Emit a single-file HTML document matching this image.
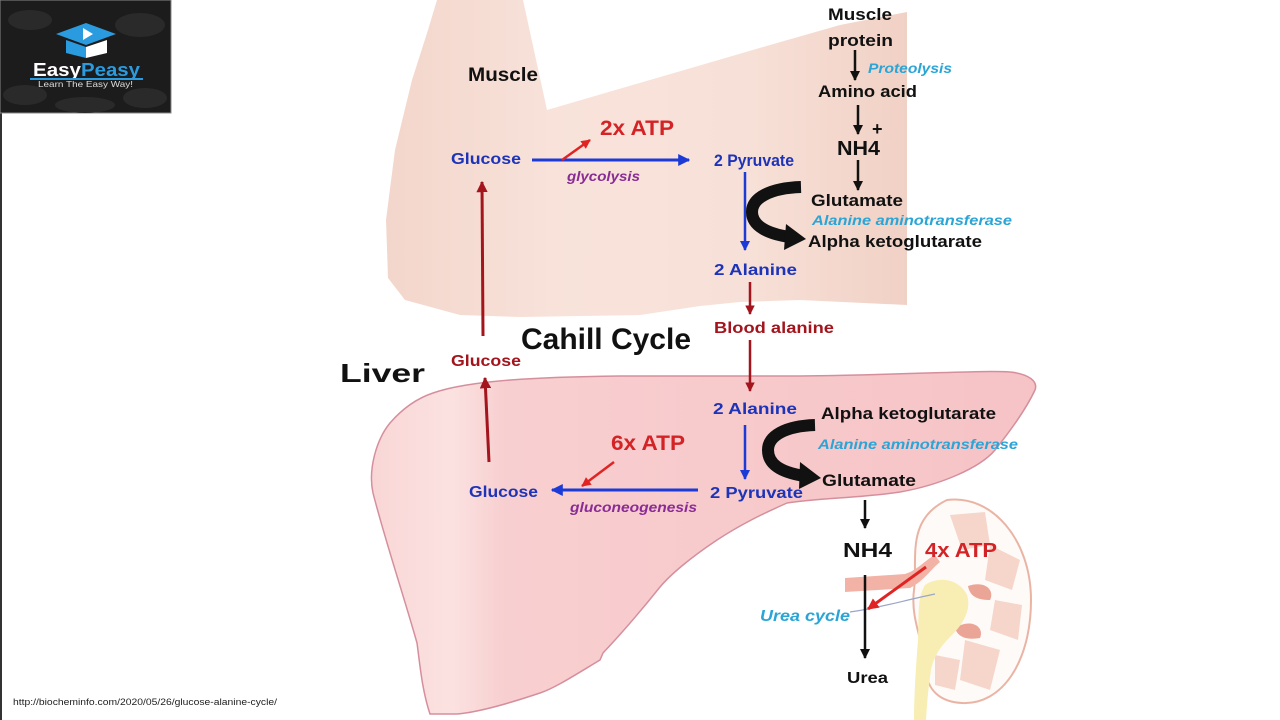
<!DOCTYPE html>
<html><head><meta charset="utf-8"><style>
html,body{margin:0;padding:0;background:#fff;}
svg{display:block;}
text{font-family:"Liberation Sans",Arial,sans-serif;font-weight:bold;}
</style></head><body>
<svg width="1280" height="720" viewBox="0 0 1280 720" xmlns="http://www.w3.org/2000/svg">
<defs>
<marker id="hb" viewBox="0 0 10 10" refX="9" refY="5" markerWidth="4" markerHeight="4" orient="auto" markerUnits="strokeWidth"><path d="M0,0 L10,5 L0,10 z" fill="#1b3ad6"/></marker>
<marker id="hr" viewBox="0 0 10 10" refX="9" refY="5" markerWidth="3.8" markerHeight="3.8" orient="auto" markerUnits="strokeWidth"><path d="M0,0 L10,5 L0,10 z" fill="#e02424"/></marker>
<marker id="hd" viewBox="0 0 10 10" refX="9" refY="5" markerWidth="3.8" markerHeight="3.8" orient="auto" markerUnits="strokeWidth"><path d="M0,0 L10,5 L0,10 z" fill="#a3141c"/></marker>
<marker id="hk" viewBox="0 0 10 10" refX="9" refY="5" markerWidth="4" markerHeight="4" orient="auto" markerUnits="strokeWidth"><path d="M0,0 L10,5 L0,10 z" fill="#111"/></marker>
<linearGradient id="mg" x1="0" y1="0" x2="1" y2="0">
<stop offset="0" stop-color="#f3d6cb"/><stop offset="0.35" stop-color="#f8e3db"/><stop offset="0.7" stop-color="#f7e0d7"/><stop offset="1" stop-color="#f1d1c5"/>
</linearGradient>
<linearGradient id="lg" x1="0" y1="0" x2="1" y2="0">
<stop offset="0" stop-color="#f9d6d6"/><stop offset="0.12" stop-color="#fbe2e1"/><stop offset="0.2" stop-color="#f8cfd0"/><stop offset="1" stop-color="#f6c3c6"/>
</linearGradient>
</defs>

<!-- left border line -->
<rect x="0" y="0" width="2" height="720" fill="#333"/>

<!-- Muscle shape -->
<path d="M437,0 L523,0 L547,110 L770,45 L840,25 L907,12 L907,305 L800,300 L740,302 L700,306 L640,315 L520,317 L460,315 L405,300 L388,278 L386,220 L395,150 L412,80 L428,30 Z" fill="url(#mg)"/>

<!-- Liver shape -->
<path d="M433,393 C470,380 540,377 620,376 L800,376 C900,375 980,370 1010,372 C1030,374 1038,382 1035,390 C1028,405 1015,425 995,450 C980,468 940,485 900,492 C860,498 820,498 787,503 C760,515 740,525 717,540 C690,558 670,575 660,587 C640,612 620,635 603,653 L600,660 C575,675 555,688 540,693 C510,703 480,712 457,714 L430,714 C422,690 420,665 417,643 C405,600 385,540 373,493 C368,470 376,440 390,423 C403,408 418,398 433,393 Z" fill="url(#lg)" stroke="#d58f9c" stroke-width="1.5"/>

<!-- Kidney -->
<path d="M947,500 C992,494 1031,540 1031,600 C1031,662 1002,705 962,703 C940,702 927,690 926,670 C925,645 910,620 914,590 C918,560 905,520 947,500 Z" fill="#fefaf8" stroke="#eab4a5" stroke-width="2"/>
<g fill="#f6d6ca">
<path d="M950,515 L985,512 L990,545 L962,550 Z"/>
<path d="M990,545 L1020,560 L1012,590 L985,580 Z"/>
<path d="M995,600 L1022,605 L1018,640 L990,630 Z"/>
<path d="M965,640 L1000,650 L990,690 L960,680 Z"/>
<path d="M935,655 L960,660 L955,690 L935,685 Z"/>
</g>
<path d="M968,586 C985,580 995,590 990,600 C980,600 970,598 968,586 Z" fill="#eba596"/>
<path d="M955,628 C970,618 985,626 980,638 C968,640 958,638 955,628 Z" fill="#eba596"/>
<!-- yellow pelvis / ureter -->
<path d="M925,585 C940,575 960,580 967,595 C972,610 962,625 952,635 C942,645 934,655 931,670 C928,690 927,705 926,720 L914,720 C914,695 916,665 918,640 C919,615 917,598 925,585 Z" fill="#f8eeb4"/>
<!-- vessels -->
<path d="M845,578 L905,574 C918,570 925,560 935,555 L940,562 C930,570 925,580 910,588 L845,592 Z" fill="#f2b3a6"/>
<path d="M850,612 C880,608 905,600 935,594" stroke="#9aa6c8" stroke-width="1.2" fill="none"/>

<!-- Logo -->
<rect x="0" y="0" width="171" height="113" fill="#1c1c1c" stroke="#888" stroke-width="1"/>
<g fill="#2a2a2a">
<ellipse cx="30" cy="20" rx="22" ry="10"/><ellipse cx="140" cy="25" rx="25" ry="12"/>
<ellipse cx="25" cy="95" rx="22" ry="10"/><ellipse cx="145" cy="98" rx="22" ry="10"/>
<ellipse cx="85" cy="105" rx="30" ry="8"/>
</g>
<path d="M56,34 L86,23 L116,34 L86,45 Z" fill="#2b9be0"/>
<path d="M66,40 L86,47 L86,58 L66,53 Z" fill="#2b9be0"/>
<path d="M86,47 L107,40 L107,53 L86,58 Z" fill="#ffffff"/>
<path d="M83,28 L93,34 L83,40 Z" fill="#ffffff"/>
<text x="33" y="76" font-size="18" fill="#ffffff" textLength="48" lengthAdjust="spacingAndGlyphs">Easy</text>
<text x="81" y="76" font-size="18" fill="#2b9be0" textLength="59" lengthAdjust="spacingAndGlyphs">Peasy</text>
<rect x="30" y="78" width="113" height="2" fill="#2b9be0"/>
<text x="38" y="87" font-size="8.5" fill="#dddddd" textLength="95" lengthAdjust="spacingAndGlyphs" style="font-weight:normal">Learn The Easy Way!</text>

<!-- Arrows -->
<line x1="532" y1="160" x2="689" y2="160" stroke="#1b3ad6" stroke-width="3" marker-end="url(#hb)"/>
<line x1="562" y1="160" x2="590" y2="140" stroke="#e02424" stroke-width="2.5" marker-end="url(#hr)"/>
<line x1="745" y1="172" x2="745" y2="250" stroke="#1b3ad6" stroke-width="2.5" marker-end="url(#hb)"/>
<line x1="855" y1="50" x2="855" y2="80" stroke="#111" stroke-width="2.5" marker-end="url(#hk)"/>
<line x1="858" y1="105" x2="858" y2="134" stroke="#111" stroke-width="2.5" marker-end="url(#hk)"/>
<line x1="858" y1="160" x2="858" y2="190" stroke="#111" stroke-width="2.5" marker-end="url(#hk)"/>
<line x1="750" y1="282" x2="750" y2="314" stroke="#a3141c" stroke-width="2.5" marker-end="url(#hd)"/>
<line x1="750" y1="340" x2="750" y2="391" stroke="#a3141c" stroke-width="2.5" marker-end="url(#hd)"/>
<line x1="483" y1="336" x2="482" y2="182" stroke="#a3141c" stroke-width="3" marker-end="url(#hd)"/>
<line x1="489" y1="462" x2="485" y2="378" stroke="#a3141c" stroke-width="3" marker-end="url(#hd)"/>
<line x1="745" y1="425" x2="745" y2="479" stroke="#1b3ad6" stroke-width="2.5" marker-end="url(#hb)"/>
<line x1="698" y1="490" x2="552" y2="490" stroke="#1b3ad6" stroke-width="3" marker-end="url(#hb)"/>
<line x1="614" y1="462" x2="582" y2="486" stroke="#e02424" stroke-width="2.5" marker-end="url(#hr)"/>
<line x1="865" y1="500" x2="865" y2="528" stroke="#111" stroke-width="2.5" marker-end="url(#hk)"/>
<line x1="865" y1="575" x2="865" y2="658" stroke="#111" stroke-width="2.5" marker-end="url(#hk)"/>
<line x1="926" y1="567" x2="868" y2="609" stroke="#e02424" stroke-width="3" marker-end="url(#hr)"/>

<!-- Curved black arrows -->
<path d="M801,187 C770,188 752,198 752,212 C752,226 768,234 790,237" stroke="#111" stroke-width="12" fill="none"/>
<path d="M786,224 L806,239 L784,250 Z" fill="#111"/>
<path d="M815,425 C785,426 768,436 768,450 C768,464 780,472 804,476" stroke="#111" stroke-width="12" fill="none"/>
<path d="M800,462 L821,478 L799,489 Z" fill="#111"/>

<!-- Texts -->
<text x="468" y="81" font-size="19" fill="#111" textLength="70" lengthAdjust="spacingAndGlyphs">Muscle</text>
<text x="451" y="164" font-size="16" fill="#1d33b8" textLength="70" lengthAdjust="spacingAndGlyphs">Glucose</text>
<text x="600" y="135" font-size="21" fill="#d42326" textLength="74" lengthAdjust="spacingAndGlyphs">2x ATP</text>
<text x="567" y="181" font-size="14" fill="#8a2c95" font-style="italic" textLength="73" lengthAdjust="spacingAndGlyphs">glycolysis</text>
<text x="714" y="166" font-size="17" fill="#1d33b8" textLength="80" lengthAdjust="spacingAndGlyphs">2 Pyruvate</text>
<text x="828" y="20" font-size="17" fill="#111" textLength="64" lengthAdjust="spacingAndGlyphs">Muscle</text>
<text x="828" y="46" font-size="17" fill="#111" textLength="65" lengthAdjust="spacingAndGlyphs">protein</text>
<text x="868" y="73" font-size="14" fill="#2aa5d6" font-style="italic" textLength="84" lengthAdjust="spacingAndGlyphs">Proteolysis</text>
<text x="818" y="97" font-size="17" fill="#111" textLength="99" lengthAdjust="spacingAndGlyphs">Amino acid</text>
<text x="872" y="135" font-size="18" fill="#111">+</text>
<text x="837" y="155" font-size="20" fill="#111" textLength="43" lengthAdjust="spacingAndGlyphs">NH4</text>
<text x="811" y="206" font-size="17" fill="#111" textLength="92" lengthAdjust="spacingAndGlyphs">Glutamate</text>
<text x="812" y="225" font-size="14" fill="#2aa5d6" font-style="italic" textLength="200" lengthAdjust="spacingAndGlyphs">Alanine aminotransferase</text>
<text x="808" y="247" font-size="17" fill="#111" textLength="174" lengthAdjust="spacingAndGlyphs">Alpha ketoglutarate</text>
<text x="714" y="275" font-size="16" fill="#1d33b8" textLength="83" lengthAdjust="spacingAndGlyphs">2 Alanine</text>
<text x="714" y="333" font-size="16" fill="#a3141c" textLength="120" lengthAdjust="spacingAndGlyphs">Blood alanine</text>
<text x="521" y="349" font-size="30" fill="#111" textLength="170" lengthAdjust="spacingAndGlyphs">Cahill Cycle</text>
<text x="340" y="382" font-size="26" fill="#111" textLength="85" lengthAdjust="spacingAndGlyphs">Liver</text>
<text x="451" y="366" font-size="16" fill="#a3141c" textLength="70" lengthAdjust="spacingAndGlyphs">Glucose</text>
<text x="713" y="414" font-size="16" fill="#1d33b8" textLength="84" lengthAdjust="spacingAndGlyphs">2 Alanine</text>
<text x="821" y="419" font-size="17" fill="#111" textLength="175" lengthAdjust="spacingAndGlyphs">Alpha ketoglutarate</text>
<text x="818" y="449" font-size="14" fill="#2aa5d6" font-style="italic" textLength="200" lengthAdjust="spacingAndGlyphs">Alanine aminotransferase</text>
<text x="822" y="486" font-size="17" fill="#111" textLength="94" lengthAdjust="spacingAndGlyphs">Glutamate</text>
<text x="611" y="450" font-size="21" fill="#d42326" textLength="74" lengthAdjust="spacingAndGlyphs">6x ATP</text>
<text x="469" y="497" font-size="16" fill="#1d33b8" textLength="69" lengthAdjust="spacingAndGlyphs">Glucose</text>
<text x="570" y="512" font-size="14" fill="#8a2c95" font-style="italic" textLength="127" lengthAdjust="spacingAndGlyphs">gluconeogenesis</text>
<text x="710" y="498" font-size="16" fill="#1d33b8" textLength="93" lengthAdjust="spacingAndGlyphs">2 Pyruvate</text>
<text x="843" y="557" font-size="20" fill="#111" textLength="49" lengthAdjust="spacingAndGlyphs">NH4</text>
<text x="925" y="557" font-size="20" fill="#d42326" textLength="72" lengthAdjust="spacingAndGlyphs">4x ATP</text>
<text x="760" y="621" font-size="16" fill="#2aa5d6" font-style="italic" textLength="90" lengthAdjust="spacingAndGlyphs">Urea cycle</text>
<text x="847" y="683" font-size="16" fill="#111" textLength="41" lengthAdjust="spacingAndGlyphs">Urea</text>
<text x="13" y="705" font-size="9" fill="#222" style="font-weight:normal" textLength="264" lengthAdjust="spacingAndGlyphs">http://biocheminfo.com/2020/05/26/glucose-alanine-cycle/</text>
</svg>
</body></html>
